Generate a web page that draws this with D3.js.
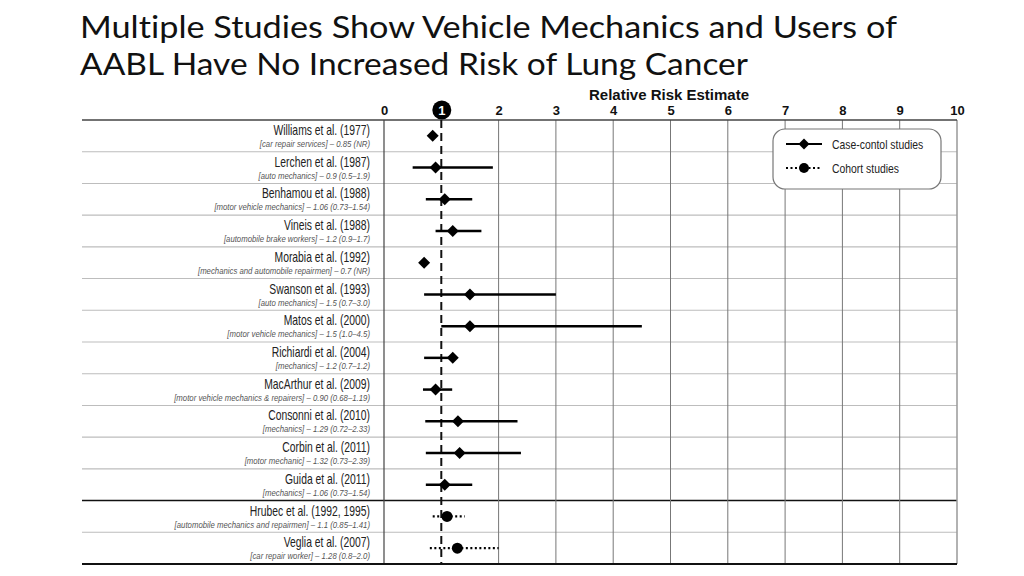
<!DOCTYPE html>
<html><head><meta charset="utf-8">
<script src="https://cdn.jsdelivr.net/npm/d3@7"></script>
<style>
html,body{margin:0;padding:0;background:#fff;}
svg{display:block;}
.title{font-variant-ligatures:none;font-feature-settings:"liga" 0,"clig" 0;}
</style></head>
<body>
<svg id="chart" width="1024" height="576"></svg>
<script>
const titleLines = ["Multiple Studies Show Vehicle Mechanics and Users of", "AABL Have No Increased Risk of Lung Cancer"];
const axisTitle = "Relative Risk Estimate";
const tickValues = [0,1,2,3,4,5,6,7,8,9,10];
const studies = ["Williams et al. (1977)","Lerchen et al. (1987)","Benhamou et al. (1988)","Vineis et al. (1988)","Morabia et al. (1992)","Swanson et al. (1993)","Matos et al. (2000)","Richiardi et al. (2004)","MacArthur et al. (2009)","Consonni et al. (2010)","Corbin et al. (2011)","Guida et al. (2011)","Hrubec et al. (1992, 1995)","Veglia et al. (2007)"];
const details = ["[car repair services] \u2013 0.85 (NR)","[auto mechanics] \u2013 0.9 (0.5\u20131.9)","[motor vehicle mechanics] \u2013 1.06 (0.73\u20131.54)","[automobile brake workers] \u2013 1.2 (0.9\u20131.7)","[mechanics and automobile repairmen] \u2013 0.7 (NR)","[auto mechanics] \u2013 1.5 (0.7\u20133.0)","[motor vehicle mechanics] \u2013 1.5 (1.0\u20134.5)","[mechanics] \u2013 1.2 (0.7\u20131.2)","[motor vehicle mechanics & repairers] \u2013 0.90 (0.68\u20131.19)","[mechanics] \u2013 1.29 (0.72\u20132.33)","[motor mechanic] \u2013 1.32 (0.73\u20132.39)","[mechanics] \u2013 1.06 (0.73\u20131.54)","[automobile mechanics and repairmen] \u2013 1.1 (0.85\u20131.41)","[car repair worker] \u2013 1.28 (0.8\u20132.0)"];
const estimates = [0.85,0.9,1.06,1.2,0.7,1.5,1.5,1.2,0.90,1.29,1.32,1.06,1.1,1.28];
const lows = [null,0.5,0.73,0.9,null,0.7,1.0,0.7,0.68,0.72,0.73,0.73,0.85,0.8];
const highs = [null,1.9,1.54,1.7,null,3.0,4.5,1.2,1.19,2.33,2.39,1.54,1.41,2.0];
const designs = ["case","case","case","case","case","case","case","case","case","case","case","case","cohort","cohort"];
const legendLabels = ["Case-contol studies","Cohort studies"];

const svg = d3.select("#chart");
const sans = "'Liberation Sans',Arial,sans-serif";

// Title
const tt = svg.append("g");
titleLines.forEach((t,i)=>{
  const el = tt.append("text").attr("class","title").attr("x",80).attr("y",[38,75][i])
    .attr("font-family","Lato,'Open Sans',sans-serif").attr("font-size",30.5)
    .attr("fill","#111").text(t);
  const target = [817,668][i];
  el.attr("textLength",target).attr("lengthAdjust","spacingAndGlyphs");
});

const x = d3.scaleLinear().domain([0,10]).range([384,957]);
const y = d3.scaleBand().domain(d3.range(studies.length)).range([120,564]);
const left = 82;

// grid: horizontal separators
const g = svg.append("g");
d3.range(1,studies.length).forEach(i=>{
  g.append("line").attr("x1",left).attr("x2",x(10)).attr("y1",y(i)).attr("y2",y(i))
   .attr("stroke", i===12 ? "#111" : "#bdbdbd").attr("stroke-width", i===12 ? 1.6 : 1.1);
});
// vertical grid
[2,3,4,5,6,7,8,9].forEach(v=>{
  g.append("line").attr("x1",x(v)).attr("x2",x(v)).attr("y1",120).attr("y2",564)
   .attr("stroke","#777").attr("stroke-width",1);
});
g.append("line").attr("x1",x(0)).attr("x2",x(0)).attr("y1",120).attr("y2",564).attr("stroke","#444").attr("stroke-width",1.2);
g.append("line").attr("x1",x(10)).attr("x2",x(10)).attr("y1",120).attr("y2",564).attr("stroke","#999").attr("stroke-width",1.5);
g.append("line").attr("x1",left).attr("x2",x(10)).attr("y1",120).attr("y2",120).attr("stroke","#444").attr("stroke-width",1.6);
g.append("line").attr("x1",left).attr("x2",x(10)).attr("y1",564).attr("y2",564).attr("stroke","#111").attr("stroke-width",2);

// reference dashed line at 1
g.append("line").attr("x1",x(1)).attr("x2",x(1)).attr("y1",120).attr("y2",564)
 .attr("stroke","#111").attr("stroke-width",2).attr("stroke-dasharray","8,5");

// axis header
svg.append("text").attr("x",669).attr("y",100).attr("text-anchor","middle")
  .attr("font-family",sans).attr("font-weight","bold").attr("font-size",15)
  .attr("fill","#111").text(axisTitle);
const axisG = svg.append("g").attr("transform","translate(0,110)")
  .call(d3.axisTop(x).tickValues(tickValues).tickSize(0).tickPadding(0).tickFormat(d3.format("d")));
axisG.select(".domain").remove();
axisG.selectAll("text").attr("font-family",sans).attr("font-weight","bold").attr("font-size",13)
  .attr("fill","#111").attr("dy","0.8em").attr("y",-5);
axisG.selectAll(".tick").filter(d=>d===1).each(function(){
  const t = d3.select(this);
  t.insert("circle","text").attr("cx",0).attr("cy",0).attr("r",9.5).attr("fill","#000");
  t.select("text").attr("fill","#fff");
});

// labels
const lab = svg.append("g");
studies.forEach((s,i)=>{
  lab.append("text").attr("transform",`translate(370,${y(i)+15}) scale(0.74,1)`).attr("text-anchor","end")
    .attr("font-family",sans).attr("font-size",14).attr("fill","#222").text(s);
  lab.append("text").attr("transform",`translate(370,${y(i)+27}) scale(0.82,1)`).attr("text-anchor","end")
    .attr("font-family",sans).attr("font-style","italic").attr("font-size",9.5).attr("fill","#555").text(details[i]);
});

// marks
const marks = svg.append("g");
const cy = i => y(i) + y.bandwidth()/2;
estimates.forEach((v,i)=>{
  const isCohort = designs[i]==="cohort";
  if(lows[i]!==null){
    marks.append("line").attr("x1",x(lows[i])).attr("x2",x(highs[i])).attr("y1",cy(i)).attr("y2",cy(i))
      .attr("stroke","#000").attr("stroke-width", isCohort?2.2:2.5)
      .attr("stroke-dasharray", isCohort ? "2,2.5" : null);
  }
  if(isCohort){
    marks.append("circle").attr("cx",x(v)).attr("cy",cy(i)).attr("r",5.5).attr("fill","#000");
  } else {
    marks.append("path").attr("d",d3.symbol().type(d3.symbolSquare).size(72)())
      .attr("transform",`translate(${x(v)},${cy(i)}) rotate(45)`).attr("fill","#000");
  }
});

// legend
const lg = svg.append("g");
lg.append("rect").attr("x",773).attr("y",129).attr("width",168).attr("height",60).attr("rx",12)
  .attr("fill","#fff").attr("stroke","#777").attr("stroke-width",1.2);
const ly = [144,168];
legendLabels.forEach((t,i)=>{
  lg.append("line").attr("x1",786).attr("x2",822).attr("y1",ly[i]).attr("y2",ly[i])
    .attr("stroke","#000").attr("stroke-width",2.2).attr("stroke-dasharray", i===1 ? "2,2.5" : null);
  if(i===0){
    lg.append("path").attr("d",d3.symbol().type(d3.symbolSquare).size(60)())
      .attr("transform",`translate(804,${ly[i]}) rotate(45)`).attr("fill","#000");
  } else {
    lg.append("circle").attr("cx",804).attr("cy",ly[i]).attr("r",5).attr("fill","#000");
  }
  lg.append("text").attr("transform",`translate(832,${ly[i]+4.5}) scale(0.8,1)`).attr("font-family",sans).attr("font-size",13)
    .attr("fill","#222").text(t);
});
</script>
</body></html>
